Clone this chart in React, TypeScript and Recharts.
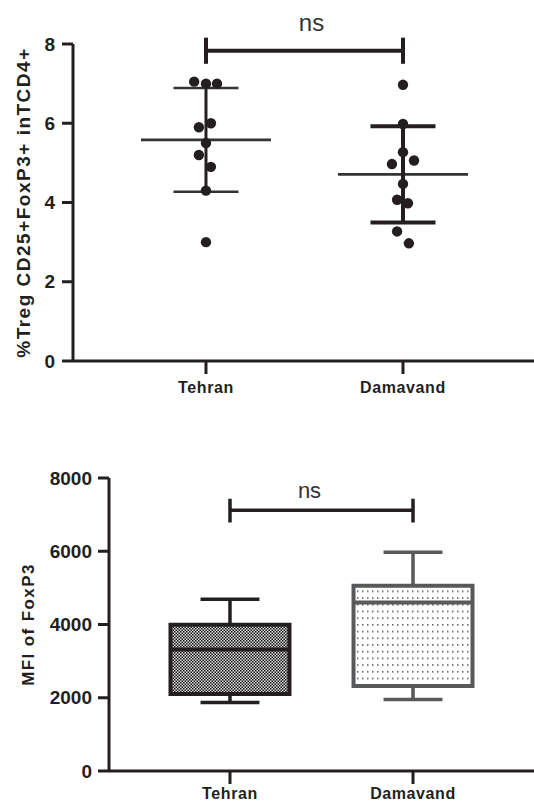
import React from 'react'
import {
  ScatterChart,
  ComposedChart,
  Scatter,
  XAxis,
  YAxis,
  ReferenceLine,
  ReferenceArea,
} from 'recharts'

const groups = ['Tehran', 'Damavand']
const groupPos = [1, 2]

// top panel: % Treg values per subject
const tehranTreg = [7.05, 7.0, 7.0, 5.9, 6.0, 5.5, 5.2, 4.9, 4.3, 3.0]
const damavandTreg = [6.97, 5.98, 5.27, 4.97, 5.06, 4.47, 4.07, 3.98, 3.27, 2.97]
// sideways spread of the swarm, in group units
const tehranJitter = [-0.06, 0, 0.056, -0.036, 0.025, 0, -0.036, 0.025, 0, 0]
const damavandJitter = [0, 0, 0, -0.056, 0.056, 0, -0.03, 0.025, -0.03, 0.03]
const tregMean = [5.58, 4.71]
const tregSd = [1.31, 1.215]
const tregTicks = [0, 2, 4, 6, 8]
const tregBracket = 7.83

// bottom panel: MFI box plots
const mfiMin = [1870, 1950]
const mfiQ1 = [2100, 2320]
const mfiMedian = [3320, 4600]
const mfiQ3 = [3990, 5060]
const mfiMax = [4690, 5975]
const mfiTicks = [0, 2000, 4000, 6000, 8000]
const mfiBracket = 7120

const INK = '#231f20'
const GREY = '#58595b'
const FONT = '"Liberation Sans", Arial, sans-serif'

const tickStyle = { fill: INK, fontSize: 19, fontWeight: 700, fontFamily: FONT }
const catStyle = { fill: INK, fontSize: 16, fontWeight: 700, fontFamily: FONT, letterSpacing: 0.6 }
const axisStroke = { stroke: INK, strokeWidth: 3 }

const tehranPts = tehranTreg.map((y, i) => ({ x: groupPos[0] + tehranJitter[i], y }))
const damavandPts = damavandTreg.map((y, i) => ({ x: groupPos[1] + damavandJitter[i], y }))
const boxRows = groups.map((g, i) => ({ x: groupPos[i], y: mfiMedian[i] }))

const Dot = (props: any) => <circle cx={props.cx} cy={props.cy} r={5.2} fill={INK} />
const Nothing = () => <g />

const MEAN_HALF = 0.33
const CAP_HALF = 0.165
const BOX_HALF = 0.325
const WHISK_HALF = 0.161

function TregPanel() {
  return (
    <ScatterChart width={534} height={400} margin={{ top: 44, right: 0, bottom: 9, left: 0 }}>
      <XAxis
        type="number"
        dataKey="x"
        domain={[0.325, 2.665]}
        allowDataOverflow
        ticks={groupPos}
        interval={0}
        tickFormatter={(v: number) => groups[v - 1]}
        tickSize={13}
        tickMargin={8}
        height={30}
        axisLine={axisStroke}
        tickLine={axisStroke}
        tick={catStyle}
      />
      <YAxis
        type="number"
        dataKey="y"
        domain={[0, 8]}
        ticks={tregTicks}
        interval={0}
        width={73}
        tickSize={11}
        tickMargin={7}
        axisLine={axisStroke}
        tickLine={axisStroke}
        tick={tickStyle}
        label={{
          value: '%Treg CD25+FoxP3+ inTCD4+',
          angle: -90,
          position: 'insideLeft',
          offset: 23,
          fill: INK,
          fontSize: 19,
          fontWeight: 700,
          fontFamily: FONT,
          style: { textAnchor: 'middle', letterSpacing: 1.5 },
        }}
      />
      {groupPos.map((g, i) => (
        <ReferenceLine
          key={'m' + g}
          segment={[{ x: g - MEAN_HALF, y: tregMean[i] }, { x: g + MEAN_HALF, y: tregMean[i] }]}
          stroke="#333"
          strokeWidth={2.6}
        />
      ))}
      {groupPos.map((g, i) => (
        <ReferenceLine
          key={'v' + g}
          segment={[{ x: g, y: tregMean[i] - tregSd[i] }, { x: g, y: tregMean[i] + tregSd[i] }]}
          stroke={INK}
          strokeWidth={i === 0 ? 3 : 4}
        />
      ))}
      {groupPos.map((g, i) =>
        [tregMean[i] - tregSd[i], tregMean[i] + tregSd[i]].map((yv, k) => (
          <ReferenceLine
            key={'c' + g + k}
            segment={[{ x: g - CAP_HALF, y: yv }, { x: g + CAP_HALF, y: yv }]}
            stroke={i === 0 ? '#333' : INK}
            strokeWidth={i === 0 ? 2.6 : 4}
          />
        ))
      )}
      <Scatter data={tehranPts} shape={Dot} isAnimationActive={false} />
      <Scatter data={damavandPts} shape={Dot} isAnimationActive={false} />
      <ReferenceLine
        segment={[{ x: groupPos[0], y: tregBracket }, { x: groupPos[1], y: tregBracket }]}
        stroke={INK}
        strokeWidth={4}
        ifOverflow="visible"
        label={{ value: 'ns', position: 'top', offset: 20, dx: 7, fill: '#333', fontSize: 24, fontFamily: FONT }}
      />
      {groupPos.map((g) => (
        <ReferenceLine
          key={'b' + g}
          segment={[{ x: g, y: 7.5 }, { x: g, y: 8.16 }]}
          stroke={INK}
          strokeWidth={4}
          ifOverflow="visible"
        />
      ))}
    </ScatterChart>
  )
}

function MfiPanel() {
  const stroke = [INK, GREY]
  const fills = ['url(#checker)', 'url(#dots)']
  return (
    <ComposedChart width={534} height={403} margin={{ top: 78, right: 0, bottom: 2, left: 0 }} data={boxRows}>
      <defs>
        <pattern id="checker" width="3" height="3" patternUnits="userSpaceOnUse">
          <rect width="3" height="3" fill="#e2e2e2" />
          <rect width="1.5" height="1.5" fill="#111" />
          <rect x="1.5" y="1.5" width="1.5" height="1.5" fill="#111" />
        </pattern>
        <pattern id="dots" width="5" height="6.7" patternUnits="userSpaceOnUse">
          <rect width="5" height="6.7" fill="#fff" />
          <rect x="2" y="3" width="1.5" height="1.5" fill="#555" />
        </pattern>
      </defs>
      <XAxis
        type="number"
        dataKey="x"
        domain={[0.339, 2.661]}
        allowDataOverflow
        ticks={groupPos}
        interval={0}
        tickFormatter={(v: number) => groups[v - 1]}
        tickSize={13}
        tickMargin={4}
        height={30}
        axisLine={axisStroke}
        tickLine={axisStroke}
        tick={catStyle}
      />
      <YAxis
        type="number"
        domain={[0, 8000]}
        ticks={mfiTicks}
        interval={0}
        width={109}
        tickSize={11}
        tickMargin={6}
        axisLine={axisStroke}
        tickLine={axisStroke}
        tick={tickStyle}
        label={{
          value: 'MFI of FoxP3',
          angle: -90,
          position: 'insideLeft',
          offset: 28,
          fill: INK,
          fontSize: 17,
          fontWeight: 700,
          fontFamily: FONT,
          style: { textAnchor: 'middle', letterSpacing: 1.4 },
        }}
      />
      {groupPos.map((g, i) => (
        <ReferenceLine
          key={'wu' + g}
          segment={[{ x: g, y: mfiQ3[i] }, { x: g, y: mfiMax[i] }]}
          stroke={stroke[i]}
          strokeWidth={3.5}
        />
      ))}
      {groupPos.map((g, i) => (
        <ReferenceLine
          key={'wl' + g}
          segment={[{ x: g, y: mfiMin[i] }, { x: g, y: mfiQ1[i] }]}
          stroke={stroke[i]}
          strokeWidth={3.5}
        />
      ))}
      {groupPos.map((g, i) =>
        [mfiMin[i], mfiMax[i]].map((yv, k) => (
          <ReferenceLine
            key={'wc' + g + k}
            segment={[{ x: g - WHISK_HALF, y: yv }, { x: g + WHISK_HALF, y: yv }]}
            stroke={stroke[i]}
            strokeWidth={3.5}
          />
        ))
      )}
      {groupPos.map((g, i) => (
        <ReferenceArea
          key={'box' + g}
          x1={g - BOX_HALF}
          x2={g + BOX_HALF}
          y1={mfiQ1[i]}
          y2={mfiQ3[i]}
          fill={fills[i]}
          fillOpacity={1}
          stroke={stroke[i]}
          strokeWidth={4}
        />
      ))}
      {groupPos.map((g, i) => (
        <ReferenceLine
          key={'med' + g}
          segment={[{ x: g - BOX_HALF, y: mfiMedian[i] }, { x: g + BOX_HALF, y: mfiMedian[i] }]}
          stroke={stroke[i]}
          strokeWidth={4}
        />
      ))}
      <Scatter dataKey="y" shape={Nothing} isAnimationActive={false} />
      <ReferenceLine
        segment={[{ x: groupPos[0], y: mfiBracket }, { x: groupPos[1], y: mfiBracket }]}
        stroke={INK}
        strokeWidth={3.5}
        label={{ value: 'ns', position: 'top', offset: 12, dx: -12, fill: '#333', fontSize: 22, fontFamily: FONT }}
      />
      {groupPos.map((g) => (
        <ReferenceLine
          key={'bt' + g}
          segment={[{ x: g, y: 6785 }, { x: g, y: 7434 }]}
          stroke={INK}
          strokeWidth={3.5}
        />
      ))}
    </ComposedChart>
  )
}

export default function App() {
  return (
    <div style={{ position: 'absolute', left: 0, top: 0, width: 534, height: 803, background: '#fff' }}>
      <TregPanel />
      <MfiPanel />
    </div>
  )
}
